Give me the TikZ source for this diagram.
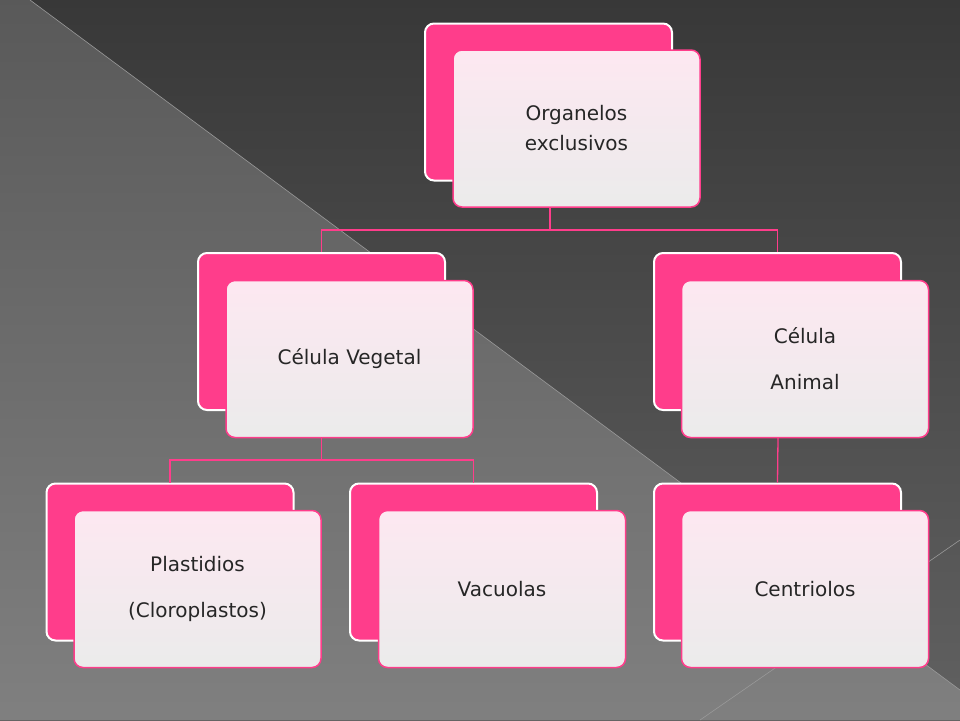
\documentclass[tikz,border=0pt]{standalone}
\usepackage{fontspec}
\setmainfont{DejaVu Sans}
\begin{document}
\begin{tikzpicture}[x=1pt,y=-1pt,
  backbox/.style={draw=white,line width=2pt,fill=pinkA,rounded corners=9pt,minimum width=247pt,minimum height=157pt,inner sep=0},
  frontbox/.style={draw=pinkA,line width=1.5pt,top color=pinkL,bottom color=grayL,middle color=pinkL!50!grayL,rounded corners=9pt,minimum width=247pt,minimum height=157pt,inner sep=0,align=center,font=\fontsize{20}{30}\selectfont,text=black!85},
  conn/.style={draw=pinkA,line width=1.3pt}]
\definecolor{pinkA}{HTML}{FF3D8B}
\definecolor{pinkL}{HTML}{FDE8F1}
\definecolor{grayL}{HTML}{EBEBEB}
\useasboundingbox (0,0) rectangle (960,720);
\shade[top color=black!78,bottom color=black!62] (0,0) rectangle (960,720);
\shade[top color=black!65,bottom color=black!50] (0,30) -- (0,720) -- (960,720) -- (960,690) -- (30,0) -- (0,0) -- cycle;
\draw[white!60!black,line width=0.6pt] (30,0) -- (960,690);
\draw[white!60!black,line width=0.6pt] (960,540) -- (700,720);
% top
\node[backbox] (topB) at (548.5,102) {};
\node[frontbox] (topF) at (576.5,128.5) {Organelos\\exclusivos};
\node[backbox] (vegB) at (321.5,331.5) {};
\node[frontbox] (vegF) at (349.5,359) {Célula Vegetal};
\node[backbox] (aniB) at (777.5,331.5) {};
\node[frontbox,font=\fontsize{20}{46}\selectfont] (aniF) at (805,359) {Célula\\Animal};
\node[backbox] (plaB) at (170,562) {};
\node[frontbox,font=\fontsize{20}{46}\selectfont] (plaF) at (197.5,589) {Plastidios\\(Cloroplastos)};
\node[backbox] (vacB) at (473.5,562) {};
\node[frontbox] (vacF) at (502,589) {Vacuolas};
\node[backbox] (cenB) at (777.5,562) {};
\node[frontbox] (cenF) at (805,589) {Centriolos};
\coordinate (j1) at (550,230);
\coordinate (j2) at (321.5,460);
\begin{scope}[on background layer/.style={}]
\end{scope}
\draw[conn] (550,207.5) -- (j1) -| (vegB.north);
\draw[conn] (j1) -| (aniB.north);
\draw[conn] (321.5,437.5) -- (j2) -| (plaB.north);
\draw[conn] (j2) -| (vacB.north);
\draw[conn] (778,437.5) -- (cenB.north);
\end{tikzpicture}
\end{document}
